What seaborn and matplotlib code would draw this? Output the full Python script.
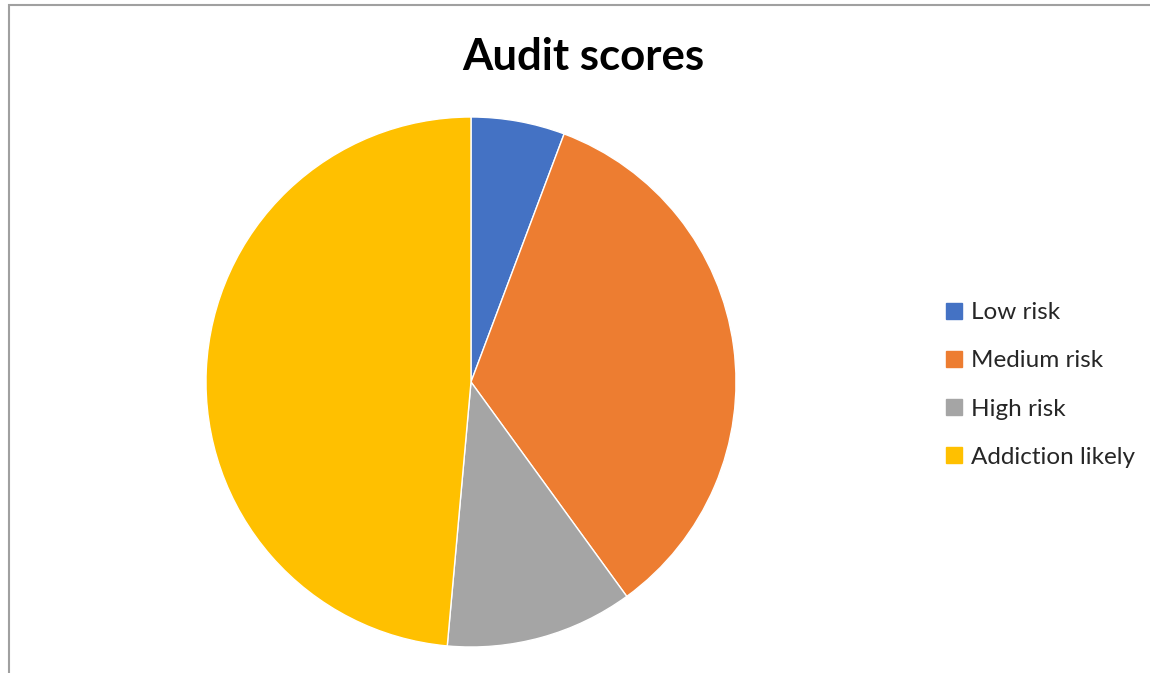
import matplotlib
matplotlib.use('Agg')
import matplotlib.pyplot as plt
from matplotlib.lines import Line2D
from matplotlib.patches import Rectangle
import seaborn as sns

categories = ["Low risk", "Medium risk", "High risk", "Addiction likely"]
counts = [2, 12, 4, 17]
colors = ["#4472C4", "#ED7D31", "#A5A5A5", "#FFC000"]

sns.set_theme(style="white")
plt.rcParams['font.family'] = ['Lato', 'DejaVu Sans']

W, H = 1150, 673
fig = plt.figure(figsize=(W / 100, H / 100), dpi=100)

# pie: centre (471, 382) px, radius 265 px
r = 265
ax = fig.add_axes([(471 - r) / W, (H - 382 - r) / H, 2 * r / W, 2 * r / H])
ax.pie(counts, colors=colors, startangle=90, counterclock=False,
       wedgeprops=dict(edgecolor="white", linewidth=1))
ax.set_xlim(-1, 1)
ax.set_ylim(-1, 1)
ax.set_aspect('equal')

fig.text(583 / W, 1 - 57 / H, "Audit scores", ha="center", va="center",
         fontsize=31.5, fontweight="bold", color="black")

handles = [Line2D([], [], linestyle="none", marker="s", markersize=11,
                  markerfacecolor=c, markeredgecolor=c) for c in colors]
fig.legend(handles, categories, loc="center left",
           bbox_to_anchor=(924 / W, 1 - 385 / H), frameon=False,
           fontsize=17.5, labelspacing=1.12, handlelength=0.7,
           handletextpad=0.35)

# chart border (cropped Excel frame)
fig.patches.append(Rectangle((8.5 / W, -0.1), 1.2, 1 - 5.5 / H + 0.1,
                             transform=fig.transFigure, fill=False,
                             edgecolor="#A0A0A0", linewidth=1.5))

fig.savefig("out.png", dpi=100)
